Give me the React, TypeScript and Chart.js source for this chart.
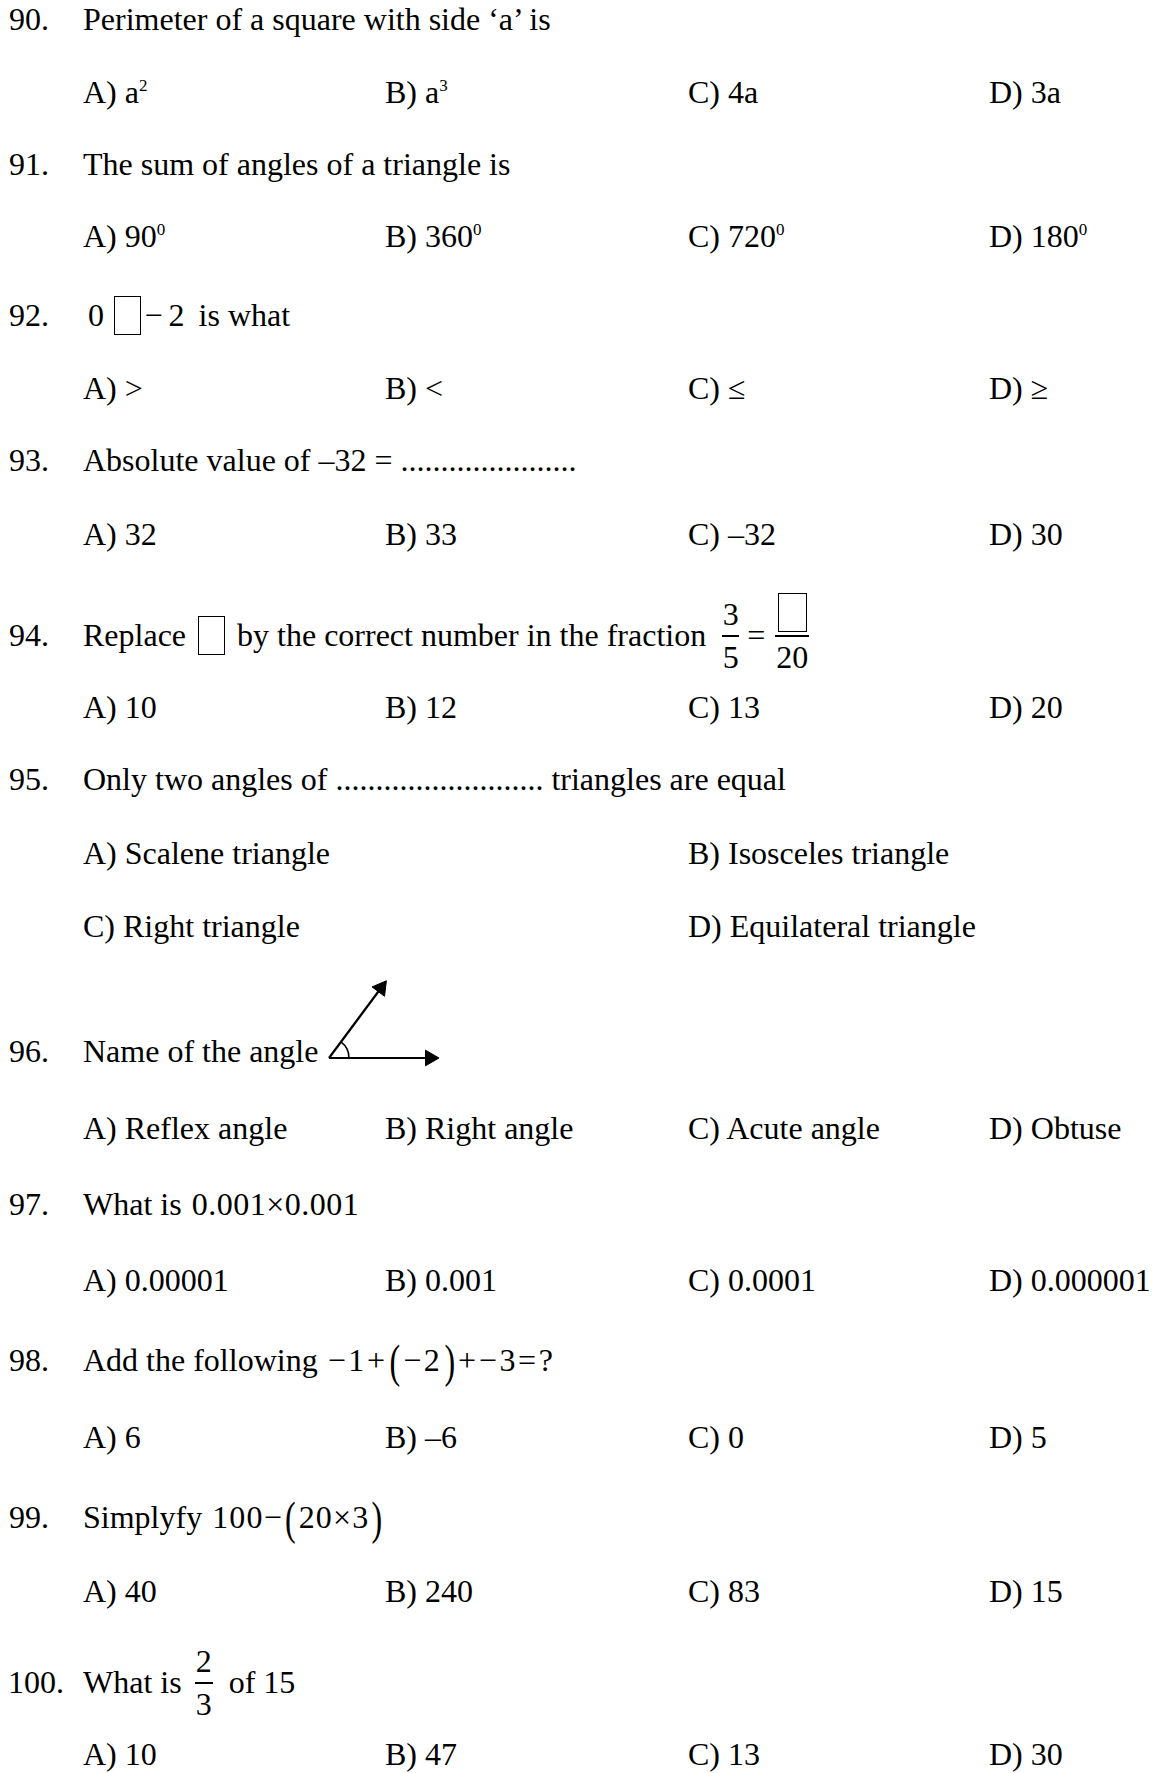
import React, { useEffect, useRef } from "react";
import { Chart, registerables } from "chart.js";

Chart.register(...registerables);

// ---------- data ----------
const questionNumbers = ["90.", "91.", "92.", "93.", "94.", "95.", "96.", "97.", "98.", "99.", "100."];

type Seg =
  | string
  | { box: true }
  | { math: string }
  | { tall: string }
  | { num: string | null; den: string };

const questionParts: Seg[][] = [
  ["Perimeter of a square with side \u2018a\u2019 is"],
  ["The sum of angles of a triangle is"],
  [{ math: "0" }, { box: true }, { math: "\u22122" }, "is what"],
  ["Absolute value of \u201332 = ......................"],
  ["Replace", { box: true }, "by the correct number in the fraction", { num: "3", den: "5" }, { math: "=" }, { num: null, den: "20" }],
  ["Only two angles of .......................... triangles are equal"],
  ["Name of the angle"],
  ["What is", { math: "0.001\u00d70.001" }],
  ["Add the following", { math: "\u22121+" }, { tall: "(" }, { math: "\u22122" }, { tall: ")" }, { math: "+\u22123=?" }],
  ["Simplyfy", { math: "100\u2212" }, { tall: "(" }, { math: "20\u00d73" }, { tall: ")" }],
  ["What is", { num: "2", den: "3" }, "of 15"],
];

const optionLetters = ["A)", "B)", "C)", "D)"];
const optionsA = ["a^2", "90^0", ">", "32", "10", "Scalene triangle", "Reflex angle", "0.00001", "6", "40", "10"];
const optionsB = ["a^3", "360^0", "<", "33", "12", "Isosceles triangle", "Right angle", "0.001", "\u20136", "240", "47"];
const optionsC = ["4a", "720^0", "\u2264", "\u201332", "13", "Right triangle", "Acute angle", "0.0001", "0", "83", "13"];
const optionsD = ["3a", "180^0", "\u2265", "30", "20", "Equilateral triangle", "Obtuse", "0.000001", "5", "15", "30"];

// angle figure (question 96): vertex and the two ray ends
const rayHorizontalX = [0, 101];
const rayHorizontalY = [0, 0];
const rayUpX = [0, 52];
const rayUpY = [0, 70];
const angleArcRadius = 20;

// ---------- layout ----------
const FONT = '"Liberation Serif", "Times New Roman", Times, serif';
const FS = 32;
const LH = 40;
const BASE_OFF = 30.8; // baseline offset inside a 40px line box
const NUM_X = 9;
const TEXT_X = 83;
const COL_X = [83, 385, 688, 989];
const questionBaselines = [30, 175, 326, 471, 646, 790, 1062, 1215, 1371, 1528, 1693];
const optionBaselines: number[][] = [[103], [247], [399], [545], [718], [864, 937], [1139], [1291], [1448], [1602], [1765]];

function renderOption(t: string) {
  const i = t.indexOf("^");
  if (i < 0) return t;
  return (
    <>
      {t.slice(0, i)}
      <span style={{ fontSize: 17, verticalAlign: 12, lineHeight: 0 }}>{t.slice(i + 1)}</span>
    </>
  );
}

function Box({ ml, mr }: { ml: number; mr: number }) {
  return (
    <span
      style={{
        display: "inline-block",
        boxSizing: "border-box",
        width: 27,
        height: 39,
        border: "1.6px solid #000",
        verticalAlign: -9,
        marginLeft: ml,
        marginRight: mr,
      }}
    />
  );
}

function Frac({ num, den, w, ml, mr }: { num: string | null; den: string; w: number; ml: number; mr: number }) {
  const inner = (top: number): React.CSSProperties => ({
    position: "absolute",
    left: 0,
    width: "100%",
    textAlign: "center",
    top,
    lineHeight: "32px",
  });
  return (
    <span
      style={{
        display: "inline-block",
        position: "relative",
        width: w,
        height: 0,
        verticalAlign: "baseline",
        marginLeft: ml,
        marginRight: mr,
      }}
    >
      {num !== null ? (
        <span style={inner(-21 - 26.8)}>{num}</span>
      ) : (
        <span
          style={{
            position: "absolute",
            left: (w - 29) / 2,
            top: -53,
            width: 29,
            height: 39,
            boxSizing: "border-box",
            border: "1.6px solid #000",
          }}
        />
      )}
      <span style={{ position: "absolute", left: 0, right: 0, top: -11, height: 1.5, background: "#000" }} />
      <span style={inner(22 - 26.8)}>{den}</span>
    </span>
  );
}

function renderQuestion(qi: number) {
  const parts = questionParts[qi];
  return parts.map((p, k) => {
    if (typeof p === "string") {
      const lead = k > 0 ? " " : "";
      const ml = qi === 10 && k > 0 ? 8 : 0;
      return (
        <span key={k} style={{ marginLeft: ml }}>
          {lead + p}
        </span>
      );
    }
    if ("box" in p) {
      return qi === 2 ? <Box key={k} ml={9} mr={3} /> : <Box key={k} ml={12} mr={4} />;
    }
    if ("math" in p) {
      let ml = k > 0 && typeof parts[k - 1] === "string" ? 10 : 1;
      let mr = 0;
      let ls = qi === 8 ? 2.6 : qi === 9 ? 1.2 : 0.5;
      if (qi === 2 && k === 0) ml = 5;
      if (qi === 2 && k === 2) ls = 6;
      if (p.math === "=") {
        ml = 8;
        mr = 6;
        ls = 0;
      }
      return (
        <span key={k} style={{ marginLeft: ml, marginRight: mr, letterSpacing: ls }}>
          {p.math}
        </span>
      );
    }
    if ("tall" in p) {
      return (
        <span
          key={k}
          style={{ display: "inline-block", transform: "scaleY(1.45) translateY(1px)", margin: "0 2px" }}
        >
          {p.tall}
        </span>
      );
    }
    if (qi === 4) {
      return p.num === null ? (
        <Frac key={k} num={p.num} den={p.den} w={34} ml={4} mr={0} />
      ) : (
        <Frac key={k} num={p.num} den={p.den} w={17} ml={16} mr={0} />
      );
    }
    return <Frac key={k} num={p.num} den={p.den} w={18} ml={13} mr={0} />;
  });
}

function AngleFigure() {
  const ref = useRef<HTMLCanvasElement | null>(null);
  useEffect(() => {
    const canvas = ref.current;
    if (!canvas) return;
    const arcPlugin = {
      id: "angleArc",
      afterDatasetsDraw(chart: any) {
        const xs = chart.scales.x;
        const ys = chart.scales.y;
        const vx = xs.getPixelForValue(rayUpX[0]);
        const vy = ys.getPixelForValue(rayUpY[0]);
        const r = xs.getPixelForValue(angleArcRadius) - xs.getPixelForValue(0);
        const ang = Math.atan2(rayUpY[1] - rayUpY[0], rayUpX[1] - rayUpX[0]);
        const ctx = chart.ctx;
        ctx.save();
        ctx.strokeStyle = "#000";
        ctx.lineWidth = 1.6;
        ctx.beginPath();
        ctx.arc(vx, vy, r, -ang, 0);
        ctx.stroke();
        ctx.restore();
      },
    };
    const chart = new Chart(canvas, {
      type: "scatter",
      data: {
        datasets: [
          {
            data: rayHorizontalX.map((x, i) => ({ x, y: rayHorizontalY[i] })),
            showLine: true,
            borderColor: "#000",
            borderWidth: 2.2,
            backgroundColor: "#000",
            pointStyle: "triangle",
            pointRadius: [0, 9],
            pointRotation: [0, 90],
            pointBorderWidth: 1,
            pointBorderColor: "#000",
            clip: false as any,
          },
          {
            data: rayUpX.map((x, i) => ({ x, y: rayUpY[i] })),
            showLine: true,
            borderColor: "#000",
            borderWidth: 2.2,
            backgroundColor: "#000",
            pointStyle: "triangle",
            pointRadius: [0, 9],
            pointRotation: [0, 37],
            pointBorderWidth: 1,
            pointBorderColor: "#000",
            clip: false as any,
          },
        ],
      },
      options: {
        animation: false,
        responsive: false,
        events: [],
        layout: { padding: 0, autoPadding: false },
        scales: {
          x: { type: "linear", display: false, min: -18, max: 132 },
          y: { type: "linear", display: false, min: -14, max: 96 },
        },
        plugins: { legend: { display: false }, tooltip: { enabled: false } },
      },
      plugins: [arcPlugin],
    });
    return () => chart.destroy();
  }, []);
  return (
    <canvas
      ref={ref}
      width={150}
      height={110}
      style={{ position: "absolute", left: 311, top: 962, width: 150, height: 110 }}
    />
  );
}

export default function App() {
  const lineStyle = (x: number, baseline: number): React.CSSProperties => ({
    position: "absolute",
    left: x,
    top: baseline - BASE_OFF,
    lineHeight: LH + "px",
    whiteSpace: "nowrap",
  });
  const opts = [optionsA, optionsB, optionsC, optionsD];
  return (
    <div
      style={{
        position: "absolute",
        left: 0,
        top: 0,
        width: 1152,
        height: 1773,
        background: "#fff",
        color: "#000",
        fontFamily: FONT,
        fontSize: FS,
        overflow: "hidden",
      }}
    >
      {questionNumbers.map((n, qi) => (
        <React.Fragment key={qi}>
          <div style={lineStyle(qi === 10 ? 8 : NUM_X, questionBaselines[qi])}>{n}</div>
          <div style={lineStyle(TEXT_X, questionBaselines[qi])}>{renderQuestion(qi)}</div>
          {optionBaselines[qi].length === 1
            ? opts.map((o, c) => (
                <div key={c} style={lineStyle(COL_X[c], optionBaselines[qi][0])}>
                  {optionLetters[c]} {renderOption(o[qi])}
                </div>
              ))
            : opts.map((o, c) => (
                <div
                  key={c}
                  style={lineStyle(COL_X[(c % 2) * 2], optionBaselines[qi][Math.floor(c / 2)])}
                >
                  {optionLetters[c]} {renderOption(o[qi])}
                </div>
              ))}
        </React.Fragment>
      ))}
      <AngleFigure />
    </div>
  );
}
